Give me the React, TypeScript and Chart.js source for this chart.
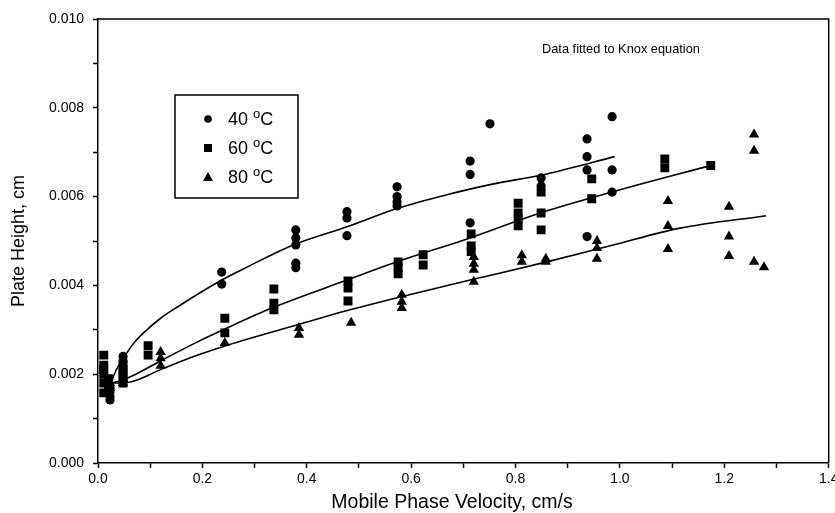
import React, { useEffect, useRef } from "react";
import { Chart, registerables } from "chart.js";

Chart.register(...registerables);

// ---- data ----
const x40 = [0.023, 0.023, 0.023, 0.023, 0.048, 0.048, 0.237, 0.237, 0.379, 0.379, 0.379, 0.379, 0.379, 0.477, 0.477, 0.477, 0.573, 0.573, 0.573, 0.573, 0.713, 0.713, 0.713, 0.751, 0.849, 0.849, 0.937, 0.937, 0.937, 0.937, 0.985, 0.985, 0.985];
const y40 = [0.0017, 0.0016, 0.0015, 0.00142, 0.0024, 0.0023, 0.0043, 0.00403, 0.00525, 0.00507, 0.00491, 0.0045, 0.0044, 0.00566, 0.00552, 0.00512, 0.00622, 0.006, 0.00588, 0.00579, 0.0068, 0.0065, 0.00541, 0.00764, 0.00642, 0.00624, 0.0073, 0.0069, 0.0066, 0.0051, 0.0078, 0.0066, 0.0061];

const x60 = [0.011, 0.011, 0.011, 0.011, 0.011, 0.011, 0.02, 0.02, 0.048, 0.048, 0.048, 0.048, 0.048, 0.096, 0.096, 0.243, 0.243, 0.337, 0.337, 0.337, 0.479, 0.479, 0.479, 0.575, 0.575, 0.575, 0.623, 0.623, 0.715, 0.715, 0.715, 0.805, 0.805, 0.805, 0.805, 0.849, 0.849, 0.849, 0.946, 0.946, 1.086, 1.086, 1.174];
const y60 = [0.00243, 0.0022, 0.0021, 0.002, 0.0018, 0.00158, 0.0019, 0.0017, 0.0022, 0.0021, 0.002, 0.0019, 0.0018, 0.00264, 0.00243, 0.00326, 0.00293, 0.00392, 0.0036, 0.00345, 0.0041, 0.00394, 0.00365, 0.00453, 0.0044, 0.00426, 0.00469, 0.00446, 0.00516, 0.00489, 0.00476, 0.00585, 0.00563, 0.0055, 0.00534, 0.0061, 0.00563, 0.00525, 0.0064, 0.00595, 0.00685, 0.00665, 0.0067];

const x80 = [0.023, 0.023, 0.048, 0.048, 0.12, 0.12, 0.12, 0.243, 0.385, 0.385, 0.485, 0.582, 0.582, 0.582, 0.72, 0.72, 0.72, 0.72, 0.812, 0.812, 0.858, 0.858, 0.956, 0.956, 0.956, 1.092, 1.092, 1.092, 1.209, 1.209, 1.209, 1.257, 1.257, 1.257, 1.276];
const y80 = [0.0018, 0.0017, 0.0019, 0.0018, 0.0025, 0.00236, 0.00219, 0.0027, 0.00304, 0.00289, 0.00316, 0.00379, 0.00363, 0.00349, 0.00464, 0.00449, 0.00435, 0.00408, 0.00468, 0.00453, 0.0046, 0.00453, 0.005, 0.00484, 0.0046, 0.0059, 0.00534, 0.00482, 0.00577, 0.0051, 0.00466, 0.0074, 0.00703, 0.00453, 0.00441];

// Knox-equation fit curves
const fitX40 = [0.025, 0.035, 0.052, 0.07, 0.09, 0.12, 0.153, 0.237, 0.282, 0.374, 0.477, 0.573, 0.668, 0.751, 0.86, 0.99];
const fitY40 = [0.0018, 0.0021, 0.00242, 0.00272, 0.00296, 0.00326, 0.00352, 0.00412, 0.00439, 0.00491, 0.00532, 0.00573, 0.00604, 0.00627, 0.00651, 0.0069];
const fitX60 = [0.025, 0.04, 0.06, 0.123, 0.186, 0.249, 0.335, 0.477, 0.573, 0.713, 0.847, 0.987, 1.18];
const fitY60 = [0.0018, 0.00184, 0.00193, 0.00232, 0.0027, 0.00305, 0.00350, 0.00412, 0.00453, 0.00507, 0.00563, 0.00611, 0.00672];
const fitX80 = [0.025, 0.06, 0.123, 0.186, 0.249, 0.381, 0.483, 0.579, 0.713, 0.86, 0.987, 1.115, 1.28];
const fitY80 = [0.0018, 0.00182, 0.00212, 0.00241, 0.00266, 0.00311, 0.00345, 0.00374, 0.00412, 0.00453, 0.00491, 0.00529, 0.00557];

const seriesLabels = ["40", "60", "80"];
const xTitle = "Mobile Phase Velocity, cm/s";
const yTitle = "Plate Height, cm";
const note = "Data fitted to Knox equation";

const FONT = "'Liberation Sans', Arial, Helvetica, sans-serif";

const zip = (xs: number[], ys: number[]) => xs.map((x, i) => ({ x, y: ys[i] }));

const framePlugin = {
  id: "frameAndLegend",
  afterDatasetsDraw(chart: any) {
    const { ctx, chartArea } = chart;
    const { left, right, top, bottom } = chartArea;
    ctx.save();
    ctx.strokeStyle = "#000";
    ctx.lineWidth = 1.5;
    ctx.beginPath();
    ctx.moveTo(left, top);
    ctx.lineTo(right, top);
    ctx.lineTo(right, bottom);
    ctx.stroke();

    // x-axis title
    ctx.fillStyle = "#000";
    ctx.font = `19.5px ${FONT}`;
    ctx.textAlign = "center";
    ctx.textBaseline = "alphabetic";
    ctx.fillText(xTitle, 452, 508);

    // note text
    ctx.font = `12.8px ${FONT}`;
    ctx.textBaseline = "middle";
    ctx.textAlign = "left";
    ctx.fillText(note, 542, 49);

    // legend box
    ctx.lineWidth = 1.5;
    ctx.strokeRect(175, 95, 123, 103);
    const styles = ["circle", "rect", "triangle"];
    const rows = [119, 148, 177];
    rows.forEach((cy, i) => {
      ctx.beginPath();
      const cx = 208;
      if (styles[i] === "circle") {
        ctx.arc(cx, cy, 3.8, 0, Math.PI * 2);
      } else if (styles[i] === "rect") {
        ctx.rect(cx - 4, cy - 4, 8, 8);
      } else {
        ctx.moveTo(cx, cy - 5);
        ctx.lineTo(cx + 5, cy + 4);
        ctx.lineTo(cx - 5, cy + 4);
        ctx.closePath();
      }
      ctx.fill();
      const base = cy + 6;
      ctx.textBaseline = "alphabetic";
      ctx.font = `18px ${FONT}`;
      ctx.fillText(seriesLabels[i] + " ", 228, base);
      const w = ctx.measureText(seriesLabels[i] + " ").width;
      ctx.font = `13px ${FONT}`;
      ctx.fillText("o", 228 + w, base - 7);
      const w2 = ctx.measureText("o").width;
      ctx.font = `18px ${FONT}`;
      ctx.fillText("C", 228 + w + w2, base);
    });
    ctx.restore();
  },
};

export default function App() {
  const ref = useRef<HTMLCanvasElement | null>(null);
  useEffect(() => {
    document.body.style.margin = "0";
    const canvas = ref.current!;
    const pointBase = { showLine: false, backgroundColor: "#000", borderColor: "#000", borderWidth: 0 };
    const lineBase = { showLine: true, pointRadius: 0, borderColor: "#000", borderWidth: 1.6, tension: 0.4, cubicInterpolationMode: "monotone" as const, fill: false };
    const chart = new Chart(canvas, {
      type: "scatter",
      data: {
        datasets: [
          { ...pointBase, label: "40 °C", data: zip(x40, y40), pointStyle: "circle", pointRadius: 4.6 },
          { ...pointBase, label: "60 °C", data: zip(x60, y60), pointStyle: "rect", pointRadius: 6.3 },
          { ...pointBase, label: "80 °C", data: zip(x80, y80), pointStyle: "triangle", pointRadius: 6 },
          { ...lineBase, label: "fit40", data: zip(fitX40, fitY40) },
          { ...lineBase, label: "fit60", data: zip(fitX60, fitY60) },
          { ...lineBase, label: "fit80", data: zip(fitX80, fitY80) },
        ] as any,
      },
      options: {
        responsive: false,
        animation: false,
        layout: { padding: { top: 19, right: 6, left: 0, bottom: 0 } },
        plugins: { legend: { display: false }, tooltip: { enabled: false } },
        scales: {
          x: {
            type: "linear",
            min: 0,
            max: 1.4,
            afterFit: (s: any) => { s.height = 50; s.paddingLeft = 0; s.paddingRight = 0; },
            ticks: {
              stepSize: 0.1,
              autoSkip: false,
              maxRotation: 0,
              color: "#000",
              padding: 3,
              font: { size: 14, family: FONT },
              callback: (v: any) => (Math.round(Number(v) * 10) % 2 === 0 ? Number(v).toFixed(1) : ""),
            },
            grid: { drawOnChartArea: false, drawTicks: true, tickLength: 5, color: "#000", tickWidth: 1.5 },
            border: { color: "#000", width: 1.5 },
            title: { display: false },
          },
          y: {
            type: "linear",
            min: 0,
            max: 0.01,
            afterFit: (s: any) => { s.width = 98; s.paddingTop = 0; s.paddingBottom = 0; },
            ticks: {
              stepSize: 0.001,
              autoSkip: false,
              color: "#000",
              padding: 9,
              font: { size: 14, family: FONT },
              callback: (v: any) => (Math.round(Number(v) * 1000) % 2 === 0 ? Number(v).toFixed(3) : ""),
            },
            grid: { drawOnChartArea: false, drawTicks: true, tickLength: 5, color: "#000", tickWidth: 1.5 },
            border: { color: "#000", width: 1.5 },
            title: { display: true, text: yTitle, color: "#000", font: { size: 18, family: FONT }, padding: { top: 8, bottom: 0 } },
          },
        },
      },
      plugins: [framePlugin],
    });
    return () => chart.destroy();
  }, []);
  return (
    <div style={{ position: "fixed", left: 0, top: 0, width: 835, height: 513, background: "#fff" }}>
      <canvas ref={ref} width={835} height={513} />
    </div>
  );
}
